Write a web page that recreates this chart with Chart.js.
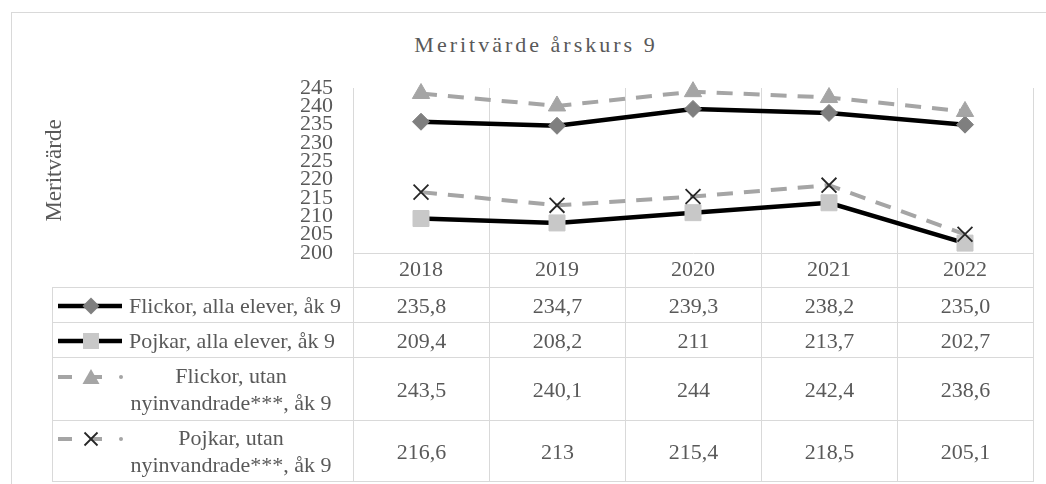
<!DOCTYPE html>
<html lang="sv">
<head>
<meta charset="utf-8">
<title>Meritvärde årskurs 9</title>
<script src="https://cdn.jsdelivr.net/npm/chart.js@4.4.0/dist/chart.umd.min.js"></script>
<style>
  html, body { margin: 0; padding: 0; background: #fff; }
  #wrap {
    position: relative; width: 1046px; height: 484px; overflow: hidden;
    font-family: 'Liberation Serif', 'DejaVu Serif', serif; color: #595959;
  }
  #frame {
    position: absolute; left: 11px; top: 12px; width: 1100px; height: 600px;
    border-top: 1px solid #d9d9d9; border-left: 1px solid #d9d9d9;
  }
  #title {
    position: absolute; left: 0; top: 32px; width: 1072px; text-align: center;
    font-size: 22px; line-height: 26px; letter-spacing: 3px;
  }
  #chartBox { position: absolute; left: 0; top: 0; }
  #dataTable {
    position: absolute; left: 52px; top: 287px;
    border-collapse: collapse; table-layout: fixed; font-size: 22px;
  }
  #dataTable td {
    border: 1px solid #d9d9d9; text-align: center; vertical-align: middle;
    padding: 0; line-height: 27px; white-space: nowrap;
  }
  #dataTable td.lab { position: relative; text-align: left; }
  .key { position: absolute; left: 5px; }
  .txt { margin-left: 76px; }
  .txt.two { width: 204px; text-align: center; white-space: normal; }
</style>
</head>
<body>
<div id="wrap">
  <div id="frame"></div>
  <div id="title">Meritvärde årskurs 9</div>
  <canvas id="chartBox" width="1046" height="290"></canvas>
  <table id="dataTable">
    <colgroup>
      <col style="width:301px"><col style="width:136px"><col style="width:136px">
      <col style="width:136px"><col style="width:136px"><col style="width:136px">
    </colgroup>
    <tbody id="tableBody"></tbody>
  </table>
</div>

<script>
// ==================== DATA ====================
const years = ['2018', '2019', '2020', '2021', '2022'];

const flickorAlla = [235.8, 234.7, 239.3, 238.2, 235.0];
const pojkarAlla  = [209.4, 208.2, 211, 213.7, 202.7];
const flickorUtan = [243.5, 240.1, 244, 242.4, 238.6];
const pojkarUtan  = [216.6, 213, 215.4, 218.5, 205.1];

const seriesNames = [
  'Flickor, alla elever, åk 9',
  'Pojkar, alla elever, åk 9',
  'Flickor, utan nyinvandrade***, åk 9',
  'Pojkar, utan nyinvandrade***, åk 9'
];

const yMin = 200;
const yMax = 245;
const yStep = 5;

// ==================== CHART ====================
const GRID = '#d9d9d9';
const TEXT = '#595959';
Chart.defaults.font.family = "'Liberation Serif', 'DejaVu Serif', serif";

const series = [
  {
    label: seriesNames[0], data: flickorAlla, decimals: 1,
    borderColor: '#000', borderWidth: 4.5, borderDash: [],
    pointStyle: 'rectRot', pointRadius: 8.5,
    pointBackgroundColor: '#7f7f7f', pointBorderColor: '#7f7f7f', pointBorderWidth: 1,
    order: 4
  },
  {
    label: seriesNames[1], data: pojkarAlla,
    borderColor: '#000', borderWidth: 4.5, borderDash: [],
    pointStyle: 'rect', pointRadius: 11.3,
    pointBackgroundColor: '#c8c8c8', pointBorderColor: '#c8c8c8', pointBorderWidth: 1,
    order: 3
  },
  {
    label: seriesNames[2], data: flickorUtan,
    borderColor: '#a5a5a5', borderWidth: 4, borderDash: [16, 11],
    pointStyle: 'triangle', pointRadius: 10,
    pointBackgroundColor: '#a5a5a5', pointBorderColor: '#a5a5a5', pointBorderWidth: 1,
    order: 2
  },
  {
    label: seriesNames[3], data: pojkarUtan,
    borderColor: '#a5a5a5', borderWidth: 4, borderDash: [16, 11],
    pointStyle: 'crossRot', pointRadius: 10.5,
    pointBackgroundColor: '#262626', pointBorderColor: '#262626', pointBorderWidth: 1.8,
    order: 1
  }
];

const chart = new Chart(document.getElementById('chartBox'), {
  type: 'line',
  data: {
    labels: years,
    datasets: series.map(s => ({
      label: s.label,
      data: s.data,
      borderColor: s.borderColor,
      borderWidth: s.borderWidth,
      borderDash: s.borderDash,
      pointStyle: s.pointStyle,
      pointRadius: s.pointRadius,
      pointHoverRadius: s.pointRadius,
      pointBackgroundColor: s.pointBackgroundColor,
      pointBorderColor: s.pointBorderColor,
      pointBorderWidth: s.pointBorderWidth,
      order: s.order,
      tension: 0,
      fill: false,
      clip: false
    }))
  },
  options: {
    responsive: false,
    animation: false,
    events: [],
    layout: { padding: { top: 88, right: 13, bottom: 3, left: 0 } },
    plugins: {
      legend: { display: false },
      tooltip: { enabled: false }
    },
    scales: {
      x: {
        offset: true,
        afterFit: scale => { scale.height = 34; },
        grid: { offset: true, color: GRID, lineWidth: 1, drawTicks: true, tickLength: 34 },
        border: { display: true, color: GRID },
        ticks: { padding: -30, maxRotation: 0, autoSkip: false, color: TEXT, font: { size: 22 } }
      },
      y: {
        min: yMin,
        max: yMax,
        afterFit: scale => { scale.width = 353; },
        grid: { display: false, drawTicks: false },
        border: { display: false },
        ticks: { stepSize: yStep, autoSkip: false, padding: 20, color: TEXT, font: { size: 22 } },
        title: {
          display: true, text: 'Meritvärde', color: TEXT,
          font: { size: 23 }, padding: { top: 41, bottom: 0 }
        }
      }
    }
  }
});

// ==================== DATA TABLE ====================
function legendKey(s) {
  const dashed = s.borderDash.length > 0;
  let line = dashed
    ? '<line x1="0" y1="10" x2="14" y2="10" stroke="#a5a5a5" stroke-width="4"/>' +
      '<line x1="33" y1="10" x2="44" y2="10" stroke="#a5a5a5" stroke-width="4"/>' +
      '<circle cx="63" cy="10" r="2" fill="#a5a5a5"/>'
    : '<line x1="0" y1="10" x2="64" y2="10" stroke="#000" stroke-width="4.5"/>';
  let mark = '';
  const c = s.pointBackgroundColor;
  if (s.pointStyle === 'rectRot') mark = `<polygon points="33,1.5 41.5,10 33,18.5 24.5,10" fill="${c}"/>`;
  if (s.pointStyle === 'rect') mark = `<rect x="25" y="2" width="16" height="16" fill="${c}"/>`;
  if (s.pointStyle === 'triangle') mark = `<polygon points="33,2 41.5,17 24.5,17" fill="${c}"/>`;
  if (s.pointStyle === 'crossRot') {
    mark = `<line x1="26.5" y1="3.5" x2="39.5" y2="16.5" stroke="${c}" stroke-width="1.8"/>` +
           `<line x1="39.5" y1="3.5" x2="26.5" y2="16.5" stroke="${c}" stroke-width="1.8"/>`;
  }
  return `<svg width="66" height="20" viewBox="0 0 66 20">${line}${mark}</svg>`;
}

function formatValue(v, decimals) {
  const txt = decimals ? v.toFixed(decimals) : String(v);
  return txt.replace('.', ',');
}

function buildTable() {
  const body = document.getElementById('tableBody');
  const rowHeights = [35, 35, 63, 61];
  series.forEach((s, i) => {
    const tr = document.createElement('tr');
    tr.style.height = rowHeights[i] + 'px';
    const twoLine = i >= 2;
    const keyTop = twoLine ? (i === 2 ? 8 : 7) : (rowHeights[i] / 2 - 11);
    const lab = document.createElement('td');
    lab.className = 'lab';
    let text = s.label;
    if (twoLine) text = text.replace(' nyinvandrade', '<br>nyinvandrade');
    lab.innerHTML = `<div class="key" style="top:${keyTop}px">${legendKey(s)}</div>` +
      `<div class="txt${twoLine ? ' two' : ''}">${text}</div>`;
    tr.appendChild(lab);
    s.data.forEach(v => {
      const td = document.createElement('td');
      td.textContent = formatValue(v, s.decimals);
      tr.appendChild(td);
    });
    body.appendChild(tr);
  });
}

buildTable();
</script>
</body>
</html>
